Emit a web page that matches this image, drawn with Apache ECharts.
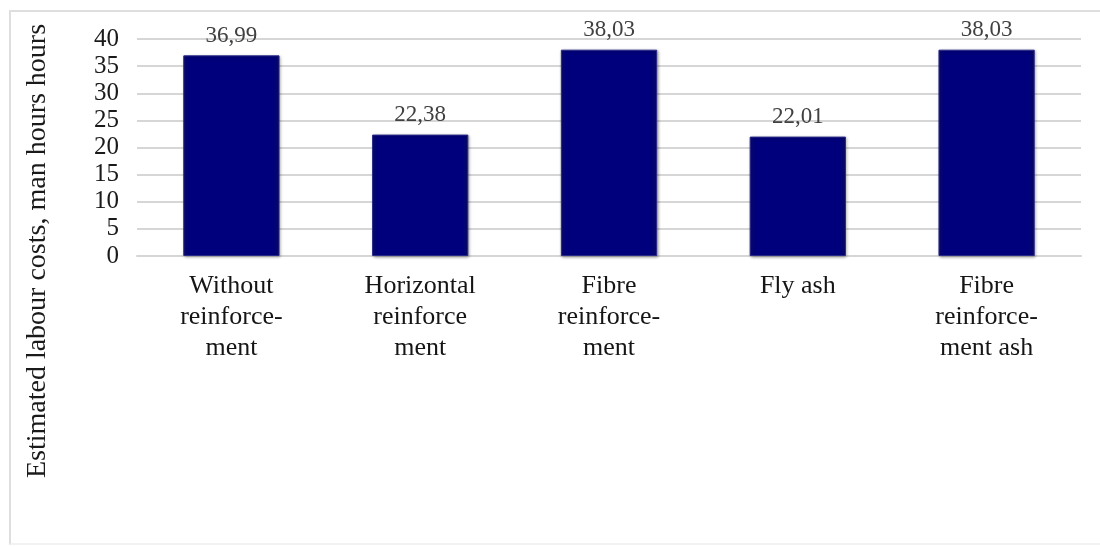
<!DOCTYPE html>
<html>
<head>
<meta charset="utf-8">
<script src="https://cdn.jsdelivr.net/npm/echarts@6/dist/echarts.min.js"></script>
<style>
html,body{margin:0;padding:0;background:#fff;overflow:hidden;}
#frame{position:absolute;left:9px;top:10px;width:1200px;height:535px;border-top:2px solid #dedede;border-left:2px solid #dedede;border-bottom:2px solid #f2f2f2;box-sizing:border-box;}
#chart{position:absolute;left:0;top:0;width:1100px;height:547px;}
</style>
</head>
<body>
<div id="frame"></div>
<div id="chart"></div>
<script>
const categories = ["Without\nreinforce-\nment", "Horizontal\nreinforce\nment", "Fibre\nreinforce-\nment", "Fly ash", "Fibre\nreinforce-\nment ash"];
const values = [36.99, 22.38, 38.03, 22.01, 38.03];
const yTicks = { min: 0, max: 40, interval: 5 };
const yTitle = "Estimated labour costs, man hours hours";

const serif = "'Liberation Serif','Times New Roman',serif";
const chart = echarts.init(document.getElementById('chart'));
chart.setOption({
  animation: false,
  backgroundColor: 'transparent',
  grid: { left: 137, right: 19, top: 39, bottom: 291, containLabel: false },
  xAxis: {
    type: 'category',
    data: categories,
    axisLine: { show: true, lineStyle: { color: '#d6d6d6', width: 2 } },
    axisTick: { show: false },
    axisLabel: { fontFamily: serif, fontSize: 26, color: '#151515', lineHeight: 31, margin: 15, interval: 0 }
  },
  yAxis: {
    type: 'value',
    min: yTicks.min, max: yTicks.max, interval: yTicks.interval,
    axisLine: { show: false },
    axisTick: { show: false },
    splitLine: { lineStyle: { color: '#d6d6d6', width: 2 } },
    axisLabel: { fontFamily: serif, fontSize: 25, color: '#1a1a1a', margin: 18 }
  },
  graphic: [{
    type: 'text',
    rotation: Math.PI / 2,
    x: 38, y: 251,
    style: { text: yTitle, font: "28px 'Liberation Serif', serif", fill: '#1a1a1a', textAlign: 'center', textVerticalAlign: 'middle' }
  }],
  series: [{
    type: 'bar',
    data: values,
    barWidth: '51%',
    itemStyle: {
      color: new echarts.graphic.LinearGradient(0, 0, 1, 0, [
        { offset: 0, color: '#0a0a70' },
        { offset: 0.06, color: '#00007c' },
        { offset: 0.94, color: '#00007c' },
        { offset: 1, color: '#0a0a60' }
      ]),
      borderColor: '#2a2a8a',
      borderWidth: 1,
      shadowColor: 'rgba(0,0,0,0.35)',
      shadowBlur: 3,
      shadowOffsetX: 1,
      shadowOffsetY: 1
    },
    label: {
      show: true,
      position: 'top',
      distance: 8,
      fontFamily: serif,
      fontSize: 23,
      color: '#404040',
      formatter: p => p.value.toFixed(2).replace('.', ',')
    }
  }]
});
</script>
</body>
</html>
